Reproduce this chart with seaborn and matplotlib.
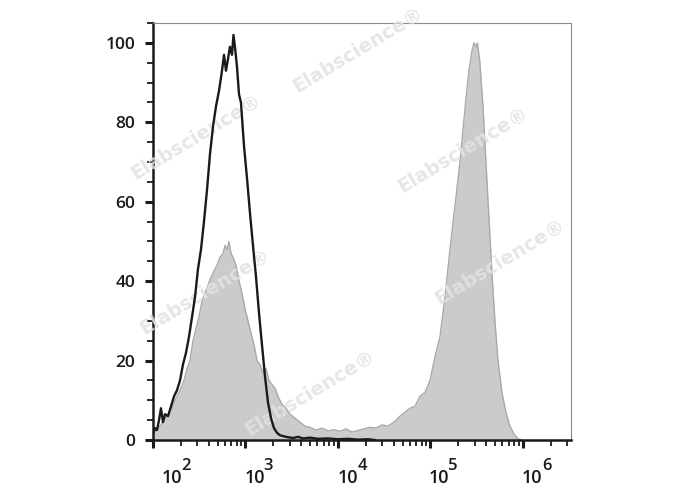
import numpy as np
import pandas as pd
import matplotlib
matplotlib.use("Agg")
import matplotlib.pyplot as plt
import matplotlib.ticker as mticker
from matplotlib.transforms import ScaledTranslation, blended_transform_factory
import seaborn as sns

# stained sample (filled grey histogram), x in log10 units
stained_log = [2.000, 2.032, 2.076, 2.119, 2.162, 2.205, 2.249, 2.292, 2.335, 2.368,
               2.400, 2.432, 2.465, 2.497, 2.530, 2.562, 2.595, 2.627, 2.659, 2.692,
               2.724, 2.757, 2.778, 2.800, 2.822, 2.843, 2.865, 2.897, 2.930, 2.962,
               2.995, 3.027, 3.059, 3.092, 3.124, 3.157, 3.189, 3.222, 3.254, 3.286,
               3.319, 3.351, 3.395, 3.438, 3.481, 3.535, 3.589, 3.643, 3.697, 3.762,
               3.827, 3.892, 3.957, 4.022, 4.086, 4.151, 4.216, 4.281, 4.346, 4.411,
               4.476, 4.541, 4.605, 4.670, 4.724, 4.778, 4.832, 4.886, 4.941, 4.995,
               5.049, 5.103, 5.157, 5.211, 5.265, 5.319, 5.351, 5.384, 5.416, 5.449,
               5.470, 5.492, 5.508, 5.535, 5.568, 5.600, 5.632, 5.665, 5.697, 5.730,
               5.773, 5.816, 5.859, 5.903, 5.946, 5.989]
stained_count = [1.0, 2.5, 3.5, 5.0, 6.5, 8.0, 10.5, 12.5, 15.0, 18.0,
                 20.0, 25.0, 28.0, 31.0, 35.0, 37.0, 39.0, 41.0, 42.5, 44.0,
                 46.0, 47.0, 49.0, 48.0, 50.0, 47.0, 46.0, 44.0, 40.0, 37.0,
                 33.0, 30.0, 27.0, 24.0, 20.0, 19.0, 17.0, 18.0, 15.0, 14.0,
                 13.0, 11.0, 9.0, 8.0, 6.5, 5.5, 4.5, 3.5, 3.2, 2.5,
                 3.0, 2.3, 2.6, 2.2, 2.8, 2.0, 2.4, 2.8, 3.2, 3.0,
                 3.8, 3.5, 4.5, 6.0, 7.0, 8.0, 8.5, 11.0, 12.0, 15.0,
                 21.0, 26.0, 36.0, 48.0, 59.0, 70.0, 78.0, 86.0, 93.0, 98.0,
                 100.0, 99.0, 100.0, 95.0, 84.0, 70.0, 56.0, 42.0, 30.0, 20.0,
                 12.0, 7.0, 3.5, 1.5, 0.3, 0.0]

# isotype control (black outline)
control_log = [2.000, 2.022, 2.043, 2.065, 2.086, 2.108, 2.130, 2.162, 2.195, 2.227,
               2.259, 2.292, 2.324, 2.357, 2.389, 2.422, 2.454, 2.486, 2.519, 2.551,
               2.584, 2.616, 2.649, 2.681, 2.714, 2.746, 2.768, 2.789, 2.811, 2.832,
               2.854, 2.870, 2.886, 2.908, 2.930, 2.951, 2.984, 3.016, 3.049, 3.081,
               3.114, 3.146, 3.178, 3.211, 3.243, 3.276, 3.308, 3.341, 3.373, 3.438,
               3.514, 3.568, 3.622, 3.697, 3.784, 3.892, 4.000, 4.108, 4.216, 4.324,
               4.400]
control_count = [1.5, 3.0, 2.5, 5.0, 8.0, 4.5, 6.5, 6.0, 8.5, 11.0,
                 12.5, 15.0, 19.0, 22.0, 26.0, 31.0, 36.0, 43.0, 48.0, 55.0,
                 63.0, 72.0, 79.0, 84.0, 88.0, 93.0, 97.0, 93.0, 96.0, 99.0,
                 97.0, 102.0, 99.0, 94.0, 87.0, 85.0, 74.0, 66.0, 57.0, 49.0,
                 41.0, 32.0, 24.0, 16.0, 9.5, 5.5, 3.0, 1.8, 1.2, 0.8,
                 0.5, 0.8, 0.4, 0.6, 0.3, 0.4, 0.2, 0.3, 0.1, 0.2,
                 0.0]

decades = [2, 3, 4, 5, 6]
y_ticks = [0, 20, 40, 60, 80, 100]
watermark = "Elabscience\u00ae"

stained = pd.DataFrame({"fluor": 10 ** np.array(stained_log), "count": stained_count})
control = pd.DataFrame({"fluor": 10 ** np.array(control_log), "count": control_count})

sns.set_style("ticks")
plt.rcParams["font.family"] = ["Open Sans", "DejaVu Sans"]

fig = plt.figure(figsize=(6.88, 4.90), dpi=100)
ax = fig.add_axes([0.2224, 0.102, 0.6076, 0.851])

ax.fill_between(stained["fluor"], stained["count"], color="#cbcbcb", lw=0, zorder=1)
sns.lineplot(data=stained, x="fluor", y="count", sort=False, estimator=None,
             color="#a9a9a9", lw=1.0, ax=ax, zorder=2)
sns.lineplot(data=control, x="fluor", y="count", sort=False, estimator=None,
             color="#1a1a1a", lw=1.7, ax=ax, zorder=4)

ax.set_xscale("log")
ax.set_xlim(10 ** 2, 10 ** 6.52)
ax.set_ylim(0, 105)
ax.set_xlabel("")
ax.set_ylabel("")

ax.xaxis.set_major_locator(mticker.FixedLocator([10.0 ** d for d in decades]))
ax.xaxis.set_minor_locator(mticker.LogLocator(base=10, subs=np.arange(2, 10), numticks=20))
ax.xaxis.set_minor_formatter(mticker.NullFormatter())
ax.set_xticklabels(["10"] * len(decades))
ax.set_yticks(y_ticks)
ax.yaxis.set_minor_locator(mticker.MultipleLocator(5))

ax.tick_params(axis="both", which="major", length=6, width=2.2, color="#1a1a1a",
               labelcolor="#1a1a1a")
ax.tick_params(axis="both", which="minor", length=4, width=1.3, color="#1a1a1a")
ax.tick_params(axis="y", which="major", pad=7, labelsize=12.5)
ax.tick_params(axis="x", which="major", pad=15, labelsize=13)

# FlowJo-style labels: "10" to the right of the tick, exponent raised beside it
base_shift = [0.19, 0.09, 0.10, 0.08, 0.09]
exp_shift = [0.33, 0.23, 0.24, 0.22, 0.24]
for lab, dx in zip(ax.get_xticklabels(), base_shift):
    lab.set_transform(lab.get_transform() + ScaledTranslation(dx, 0, fig.dpi_scale_trans))
for lab in ax.get_xticklabels() + ax.get_yticklabels():
    lab.set_fontweight("semibold")

xbl = blended_transform_factory(ax.transData, ax.transAxes)
for d, dx in zip(decades, exp_shift):
    ax.text(10.0 ** d, 0, str(d), ha="center", va="center", fontsize=12,
            fontweight="semibold", color="#1a1a1a", clip_on=False,
            transform=xbl + ScaledTranslation(dx, -0.26, fig.dpi_scale_trans))

for side in ["left", "bottom"]:
    ax.spines[side].set_linewidth(1.8)
    ax.spines[side].set_color("#1a1a1a")
for side in ["top", "right"]:
    ax.spines[side].set_visible(True)
    ax.spines[side].set_linewidth(0.8)
    ax.spines[side].set_color("#8a8a8a")

# watermark stamps
marks = [(358, 50), (196, 137), (463, 150), (500, 262), (205, 292), (310, 393)]
for px, py in marks:
    ax.text(px / 688, 1 - py / 490, watermark, transform=fig.transFigure,
            rotation=31, ha="center", va="center", rotation_mode="anchor",
            fontsize=14, fontweight="bold", color="#e2e2e2", alpha=0.85,
            zorder=3, clip_on=False, family=["DejaVu Sans"])

fig.savefig("out.png", dpi=100)
